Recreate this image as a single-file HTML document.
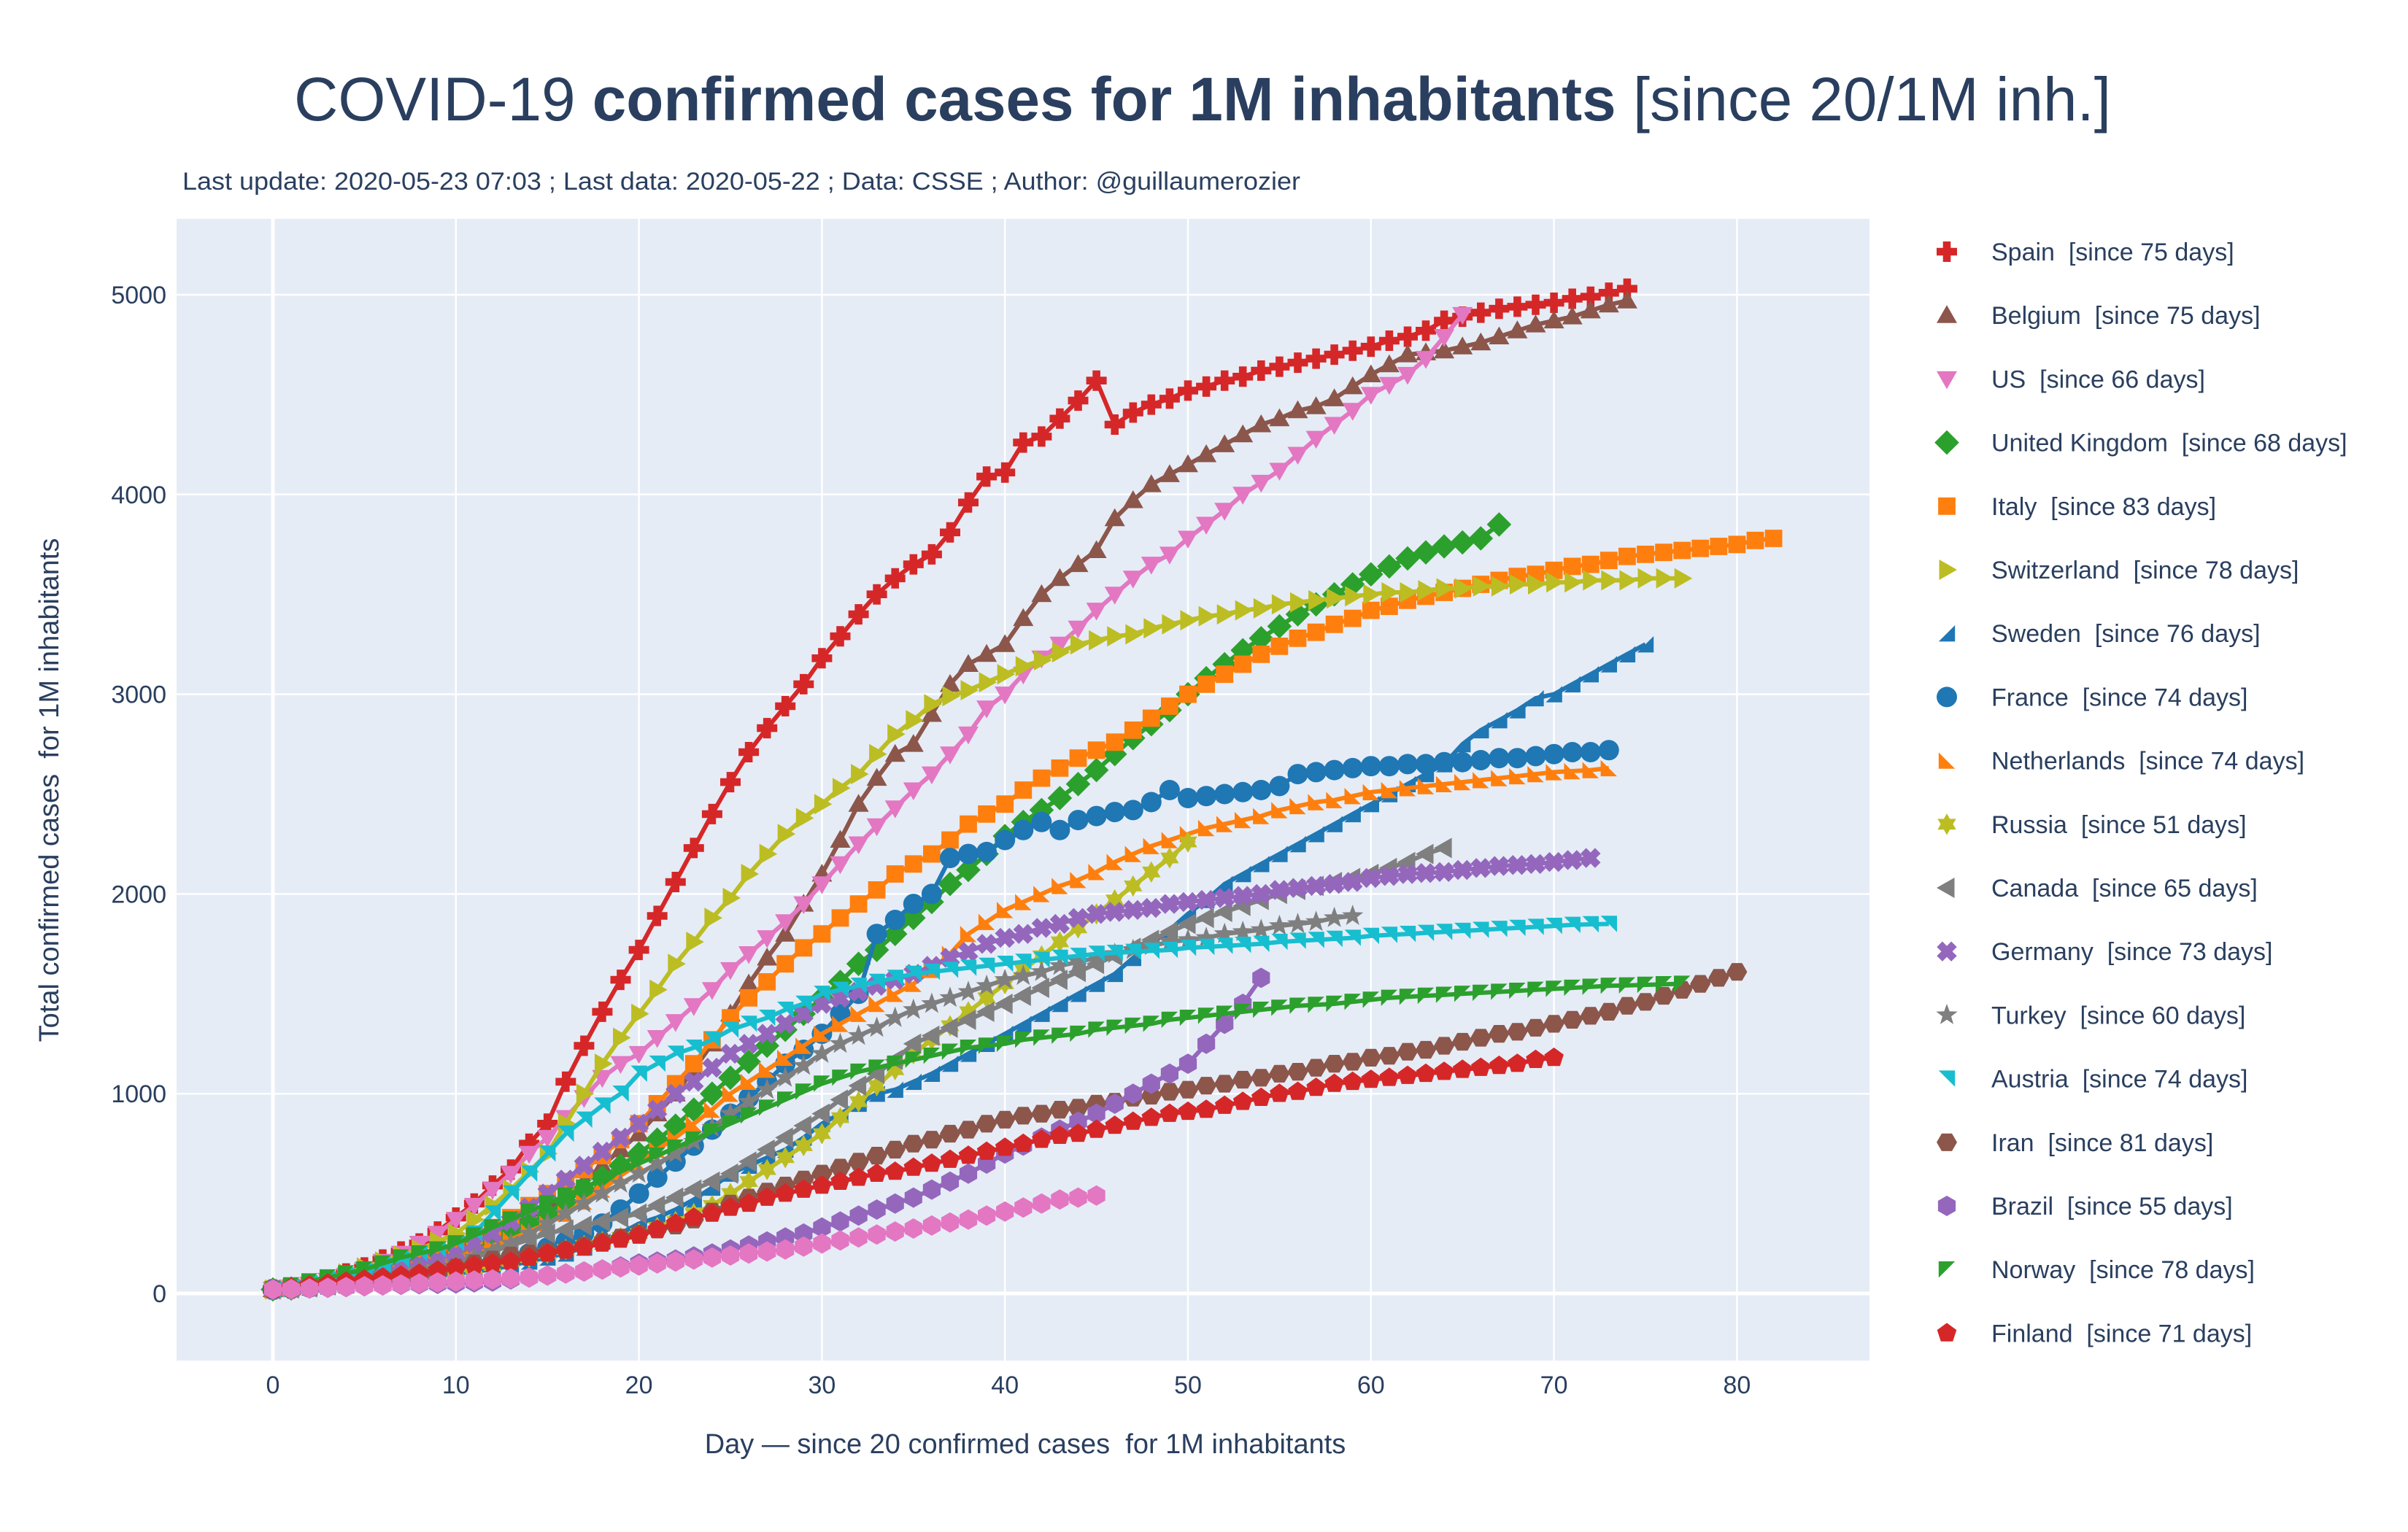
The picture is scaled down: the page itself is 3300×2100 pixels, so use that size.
<!DOCTYPE html>
<html><head><meta charset="utf-8">
<style>
html,body{margin:0;padding:0;background:#fff;}
svg{display:block;font-family:"Liberation Sans",sans-serif;}
.pre{white-space:pre;}
</style></head>
<body>
<svg id="chart" width="3300" height="2100" viewBox="0 0 3300 2100" xmlns="http://www.w3.org/2000/svg">
<rect x="0" y="0" width="3300" height="2100" fill="#fff"/>
<text x="1648" y="165" text-anchor="middle" font-size="84" fill="#2a3f5f" textLength="2490" lengthAdjust="spacingAndGlyphs">COVID-19 <tspan font-weight="bold">confirmed cases for 1M inhabitants</tspan> [since 20/1M inh.]</text>
<text x="250" y="260" font-size="34" fill="#2a3f5f" textLength="1532" lengthAdjust="spacingAndGlyphs">Last update: 2020-05-23 07:03 ; Last data: 2020-05-22 ; Data: CSSE ; Author: @guillaumerozier</text>
<rect x="242" y="300" width="2320" height="1565" fill="#e5ecf6"/>
<g id="grid"></g>
<defs><clipPath id="clip"><rect x="242" y="300" width="2320" height="1565"/></clipPath></defs>
<g id="series" clip-path="url(#clip)"></g>
<g id="ticks"></g>
<text class="pre" x="1405" y="1992" text-anchor="middle" font-size="38" fill="#2a3f5f">Day — since 20 confirmed cases  for 1M inhabitants</text>
<text class="pre" x="80" y="1083" text-anchor="middle" font-size="38" fill="#2a3f5f" transform="rotate(-90 80 1083)">Total confirmed cases  for 1M inhabitants</text>
<g id="legend"></g>
</svg>
<script>
const countryNames=["Spain","Belgium","US","United Kingdom","Italy","Switzerland","Sweden","France","Netherlands","Russia","Canada","Germany","Turkey","Austria","Iran","Brazil","Norway","Finland",""];
const sinceDays=[75,75,66,68,83,78,76,74,74,51,65,73,60,74,81,55,78,71,46];
const spainVals=[20,25,40,60,100,130,170,210,250,310,380,450,540,620,750,850,1060,1240,1410,1570,1720,1890,2060,2230,2400,2560,2710,2830,2940,3050,3180,3290,3400,3500,3580,3650,3700,3810,3960,4090,4110,4260,4290,4380,4470,4570,4350,4410,4450,4480,4520,4540,4570,4590,4620,4640,4660,4680,4700,4720,4740,4770,4790,4820,4870,4890,4910,4930,4940,4950,4960,4980,4990,5010,5030];
const belgiumVals=[20,30,45,60,80,100,120,150,180,200,230,270,310,350,380,420,490,560,640,720,800,900,1000,1120,1250,1400,1550,1680,1800,1950,2100,2270,2450,2580,2700,2750,2900,3050,3150,3200,3250,3380,3500,3580,3650,3720,3880,3970,4050,4100,4150,4200,4250,4300,4350,4380,4420,4440,4480,4540,4600,4650,4700,4710,4720,4740,4760,4790,4820,4850,4870,4890,4920,4950,4970];
const usVals=[20,30,45,65,90,120,160,200,250,300,370,440,520,600,700,780,880,980,1080,1150,1200,1280,1360,1440,1520,1620,1700,1780,1860,1950,2050,2150,2250,2340,2430,2520,2600,2700,2800,2930,3000,3100,3180,3250,3330,3420,3500,3580,3650,3700,3780,3850,3920,4000,4060,4120,4200,4280,4350,4420,4500,4550,4600,4680,4790,4900];
const ukVals=[20,25,35,45,60,75,90,110,135,160,190,220,260,300,350,400,460,520,580,640,700,770,840,920,1000,1080,1160,1240,1320,1400,1480,1560,1650,1720,1800,1880,1960,2050,2120,2200,2290,2360,2420,2480,2550,2620,2700,2780,2850,2920,3000,3080,3150,3220,3280,3340,3400,3450,3500,3550,3600,3640,3680,3710,3740,3760,3780,3850];
const italyVals=[20,30,40,55,70,90,110,130,160,200,250,290,330,380,440,500,560,620,690,770,850,950,1050,1150,1270,1380,1480,1560,1650,1730,1800,1880,1950,2020,2100,2150,2200,2270,2350,2400,2450,2520,2580,2630,2680,2720,2760,2820,2880,2940,3000,3050,3100,3150,3200,3240,3280,3310,3350,3380,3420,3440,3470,3490,3510,3530,3550,3570,3590,3600,3620,3640,3650,3670,3690,3700,3710,3720,3730,3740,3750,3770,3780];
const switzerlandVals=[20,30,50,70,100,130,160,190,220,260,300,370,440,520,610,700,850,1000,1150,1280,1400,1520,1650,1760,1880,1980,2100,2200,2300,2380,2450,2530,2600,2700,2800,2870,2950,2990,3020,3060,3100,3140,3170,3210,3250,3270,3290,3300,3330,3350,3370,3390,3400,3420,3430,3450,3460,3470,3480,3490,3500,3510,3510,3520,3530,3530,3540,3540,3550,3550,3560,3560,3570,3570,3570,3580,3580,3580];
const swedenVals=[20,25,30,35,40,50,60,70,80,90,100,110,120,140,160,180,200,230,260,300,350,380,420,470,530,600,640,680,720,780,850,900,950,1000,1020,1060,1100,1150,1200,1250,1300,1350,1400,1450,1500,1550,1600,1680,1750,1820,1900,1970,2050,2100,2150,2200,2250,2300,2350,2400,2450,2500,2550,2600,2650,2750,2820,2870,2920,2980,3000,3050,3100,3150,3200,3250];
const franceVals=[20,25,30,40,50,60,70,80,90,105,120,140,160,180,200,230,260,300,350,420,500,580,660,740,820,900,980,1060,1150,1220,1300,1400,1500,1800,1870,1950,2000,2180,2200,2210,2270,2320,2360,2320,2370,2390,2410,2420,2460,2520,2480,2490,2500,2510,2520,2540,2600,2610,2620,2630,2640,2640,2650,2650,2660,2660,2670,2680,2680,2690,2700,2710,2710,2720];
const netherlandsVals=[20,30,40,50,65,80,95,110,130,150,180,210,240,270,310,350,400,460,520,590,650,720,780,850,920,1000,1060,1120,1180,1240,1300,1350,1400,1450,1500,1550,1620,1700,1800,1860,1920,1960,2000,2040,2070,2110,2160,2200,2240,2270,2300,2330,2350,2370,2390,2420,2440,2460,2470,2490,2510,2520,2530,2540,2550,2560,2570,2580,2590,2600,2610,2615,2620,2630];
const russiaVals=[20,25,30,40,50,60,70,80,90,100,110,125,140,160,180,200,220,240,260,280,300,330,360,400,440,500,560,620,680,740,800,880,960,1040,1120,1200,1270,1340,1410,1480,1550,1620,1690,1760,1830,1900,1970,2040,2110,2180,2260];
const canadaVals=[20,25,30,40,50,60,70,85,100,120,150,180,210,240,270,300,320,340,360,380,400,440,480,520,560,600,660,720,780,840,900,970,1040,1100,1170,1250,1290,1330,1370,1410,1450,1490,1530,1570,1610,1650,1690,1730,1770,1810,1850,1880,1910,1940,1970,2000,2020,2040,2060,2080,2100,2130,2160,2200,2230];
const germanyVals=[20,30,40,55,70,90,110,130,150,170,200,250,300,360,430,500,570,640,710,780,850,920,1000,1060,1130,1200,1250,1300,1350,1400,1450,1480,1510,1540,1570,1600,1640,1680,1710,1750,1780,1800,1830,1850,1880,1900,1910,1920,1930,1950,1960,1970,1980,1990,2000,2020,2030,2040,2050,2060,2080,2090,2100,2105,2110,2120,2130,2140,2145,2150,2160,2170,2180];
const turkeyVals=[20,30,40,50,60,80,90,100,120,130,150,180,210,250,300,350,400,450,500,550,600,650,700,760,830,900,960,1020,1080,1140,1200,1250,1290,1330,1380,1420,1450,1480,1510,1540,1570,1590,1610,1640,1660,1680,1700,1720,1740,1760,1770,1780,1800,1810,1820,1840,1850,1860,1880,1890];
const austriaVals=[20,30,50,70,90,110,140,170,200,220,250,300,400,500,600,700,800,870,940,1000,1100,1150,1200,1230,1270,1320,1350,1380,1420,1450,1500,1520,1540,1560,1580,1600,1610,1620,1630,1640,1650,1660,1670,1680,1690,1700,1705,1710,1715,1720,1730,1735,1740,1745,1750,1760,1765,1770,1775,1780,1790,1795,1800,1805,1810,1815,1820,1825,1830,1835,1840,1845,1848,1850];
const iranVals=[20,25,30,35,40,50,60,70,80,100,130,150,170,190,200,210,220,240,260,280,300,320,340,370,410,450,480,510,540,570,600,630,660,690,720,750,770,800,820,850,870,890,900,920,930,950,960,980,990,1010,1020,1040,1050,1070,1080,1100,1110,1130,1150,1160,1180,1190,1210,1220,1240,1260,1280,1300,1310,1330,1350,1370,1390,1410,1440,1460,1490,1520,1550,1580,1610];
const brazilVals=[20,22,25,28,32,36,40,43,46,48,50,55,60,70,80,90,100,110,120,135,150,160,170,185,200,220,240,260,280,300,330,360,390,420,450,480,520,560,600,650,700,740,780,820,860,900,950,1000,1050,1100,1150,1250,1350,1450,1580];
const norwayVals=[20,40,60,80,100,120,150,180,200,220,250,290,330,370,410,450,490,530,570,610,650,690,730,770,810,850,890,930,970,1010,1050,1080,1110,1130,1150,1170,1190,1210,1230,1240,1250,1270,1280,1290,1300,1320,1330,1340,1350,1370,1380,1390,1400,1410,1420,1430,1440,1445,1450,1460,1470,1480,1485,1490,1495,1500,1505,1510,1515,1520,1525,1530,1535,1540,1542,1545,1548,1550];
const finlandVals=[20,30,40,50,60,70,80,90,100,115,130,140,150,160,180,200,215,230,250,270,290,320,350,380,400,430,450,480,500,520,540,560,580,600,610,630,650,670,690,710,730,750,770,790,800,820,840,860,880,900,910,920,940,960,980,1000,1010,1030,1050,1060,1070,1080,1090,1100,1110,1120,1130,1140,1150,1170,1180];
const pinkVals=[20,22,25,28,32,36,40,45,50,55,60,65,70,75,80,90,100,110,120,130,140,150,160,170,180,190,200,210,220,235,250,265,280,295,310,325,340,355,370,390,410,430,450,470,480,490];
const xTicks=[0,10,20,30,40,50,60,70,80];
const yTicks=[0,1000,2000,3000,4000,5000];

const seriesVals=[spainVals,belgiumVals,usVals,ukVals,italyVals,switzerlandVals,swedenVals,franceVals,netherlandsVals,russiaVals,canadaVals,germanyVals,turkeyVals,austriaVals,iranVals,brazilVals,norwayVals,finlandVals,pinkVals];
const colors=["#d62728","#8c564b","#e377c2","#2ca02c","#ff7f0e","#bcbd22","#1f77b4","#1f77b4","#ff7f0e","#bcbd22","#7f7f7f","#9467bd","#7f7f7f","#17becf","#8c564b","#9467bd","#2ca02c","#d62728","#e377c2"];
const symbols=["cross","tri-up","tri-down","diamond","square","tri-right","tri-se","circle","tri-sw","hexagram","tri-left","x","star","tri-ne","hex-flat","hex-point","tri-nw","pentagon","hex-point"];

const NS="http://www.w3.org/2000/svg";
function xs(d){return 374+d*25.08;}
function ys(v){return 1773-v*0.2738;}

function symPath(s,r){
  const P=(pts)=>"M"+pts.map(p=>p[0].toFixed(1)+","+p[1].toFixed(1)).join("L")+"Z";
  const poly=(n,rot,rr)=>{const a=[];for(let i=0;i<n;i++){const t=rot+i*2*Math.PI/n;a.push([rr*Math.cos(t),rr*Math.sin(t)]);}return a;};
  const w=r*0.38;
  const crossPts=[[-w,-r],[w,-r],[w,-w],[r,-w],[r,w],[w,w],[w,r],[-w,r],[-w,w],[-r,w],[-r,-w],[-w,-w]];
  switch(s){
    case "cross":return P(crossPts);
    case "x":{const c=Math.SQRT1_2;return P(crossPts.map(p=>[(p[0]-p[1])*c,(p[0]+p[1])*c]));}
    case "tri-up":return P([[0,-r],[r,r*0.75],[-r,r*0.75]]);
    case "tri-down":return P([[0,r],[r,-r*0.75],[-r,-r*0.75]]);
    case "tri-right":return P([[r,0],[-r*0.75,-r],[-r*0.75,r]]);
    case "tri-left":return P([[-r,0],[r*0.75,-r],[r*0.75,r]]);
    case "tri-se":return P([[r*0.8,-r*0.8],[r*0.8,r*0.8],[-r*0.8,r*0.8]]);
    case "tri-sw":return P([[-r*0.8,-r*0.8],[r*0.8,r*0.8],[-r*0.8,r*0.8]]);
    case "tri-ne":return P([[-r*0.8,-r*0.8],[r*0.8,-r*0.8],[r*0.8,r*0.8]]);
    case "tri-nw":return P([[-r*0.8,-r*0.8],[r*0.8,-r*0.8],[-r*0.8,r*0.8]]);
    case "diamond":return P([[0,-r*1.2],[r*1.2,0],[0,r*1.2],[-r*1.2,0]]);
    case "square":return P([[-r*0.85,-r*0.85],[r*0.85,-r*0.85],[r*0.85,r*0.85],[-r*0.85,r*0.85]]);
    case "pentagon":return P(poly(5,-Math.PI/2,r));
    case "hex-flat":return P(poly(6,0,r));
    case "hex-point":return P(poly(6,-Math.PI/2,r));
    case "star":{const a=[];for(let i=0;i<10;i++){const t=-Math.PI/2+i*Math.PI/5;const rr=i%2?r*0.45:r*1.1;a.push([rr*Math.cos(t),rr*Math.sin(t)]);}return P(a);}
    case "hexagram":{const a=[];for(let i=0;i<12;i++){const t=-Math.PI/2+i*Math.PI/6;const rr=i%2?r*0.6:r*1.05;a.push([rr*Math.cos(t),rr*Math.sin(t)]);}return P(a);}
    default:return "M"+(-r)+",0A"+r+","+r+" 0 1,0 "+r+",0A"+r+","+r+" 0 1,0 "+(-r)+",0Z";
  }
}

const grid=document.getElementById("grid");
xTicks.forEach(t=>{
  const l=document.createElementNS(NS,"line");
  
  
  l.setAttribute("x1",xs(t));l.setAttribute("x2",xs(t));l.setAttribute("y1",300);l.setAttribute("y2",1865);
  l.setAttribute("stroke","#fff");l.setAttribute("stroke-width",t===0?5:2.5);
  grid.appendChild(l);
});
yTicks.forEach(t=>{
  const l=document.createElementNS(NS,"line");
  
  
  l.setAttribute("x1",242);l.setAttribute("x2",2562);l.setAttribute("y1",ys(t));l.setAttribute("y2",ys(t));
  l.setAttribute("stroke","#fff");l.setAttribute("stroke-width",t===0?5:2.5);
  grid.appendChild(l);
});
const ticks=document.getElementById("ticks");
xTicks.forEach(t=>{
  const tx=document.createElementNS(NS,"text");
  
  
  tx.setAttribute("x",xs(t));tx.setAttribute("y",1910);tx.setAttribute("text-anchor","middle");
  tx.setAttribute("font-size","34");tx.setAttribute("fill","#2a3f5f");tx.textContent=t;
  ticks.appendChild(tx);
});
yTicks.forEach(t=>{
  const tx=document.createElementNS(NS,"text");
  
  
  tx.setAttribute("x",228);tx.setAttribute("y",ys(t)+12);tx.setAttribute("text-anchor","end");
  tx.setAttribute("font-size","34");tx.setAttribute("fill","#2a3f5f");tx.textContent=t;
  ticks.appendChild(tx);
});

const sg=document.getElementById("series");
seriesVals.forEach((vals,i)=>{
  const g=document.createElementNS(NS,"g");
  
  
  const pl=document.createElementNS(NS,"polyline");
  
  
  pl.setAttribute("points",vals.map((v,d)=>xs(d).toFixed(1)+","+ys(v).toFixed(1)).join(" "));
  pl.setAttribute("fill","none");pl.setAttribute("stroke",colors[i]);pl.setAttribute("stroke-width",6);pl.setAttribute("stroke-linejoin","round");
  g.appendChild(pl);
  const pth=symPath(symbols[i],14);
  vals.forEach((v,d)=>{
    const m=document.createElementNS(NS,"path");
    
    
    m.setAttribute("d",pth);m.setAttribute("fill",colors[i]);
    m.setAttribute("transform","translate("+xs(d).toFixed(1)+","+ys(v).toFixed(1)+")");
    g.appendChild(m);
  });
  sg.appendChild(g);
});

const lg=document.getElementById("legend");
countryNames.forEach((n,i)=>{
  if(!n)return;
  const y=345+i*87.2;
  const g=document.createElementNS(NS,"g");
  
  
  const m=document.createElementNS(NS,"path");
  
  
  m.setAttribute("d",symPath(symbols[i],14));m.setAttribute("fill",colors[i]);
  m.setAttribute("transform","translate(2668,"+y+")");
  g.appendChild(m);
  const t=document.createElementNS(NS,"text");
  
  
  t.setAttribute("class","pre");
  t.setAttribute("x",2729);t.setAttribute("y",y+12);t.setAttribute("font-size","34");t.setAttribute("fill","#2a3f5f");
  t.textContent=n+"  [since "+sinceDays[i]+" days]";
  g.appendChild(t);
  lg.appendChild(g);
});
</script>
</body></html>
